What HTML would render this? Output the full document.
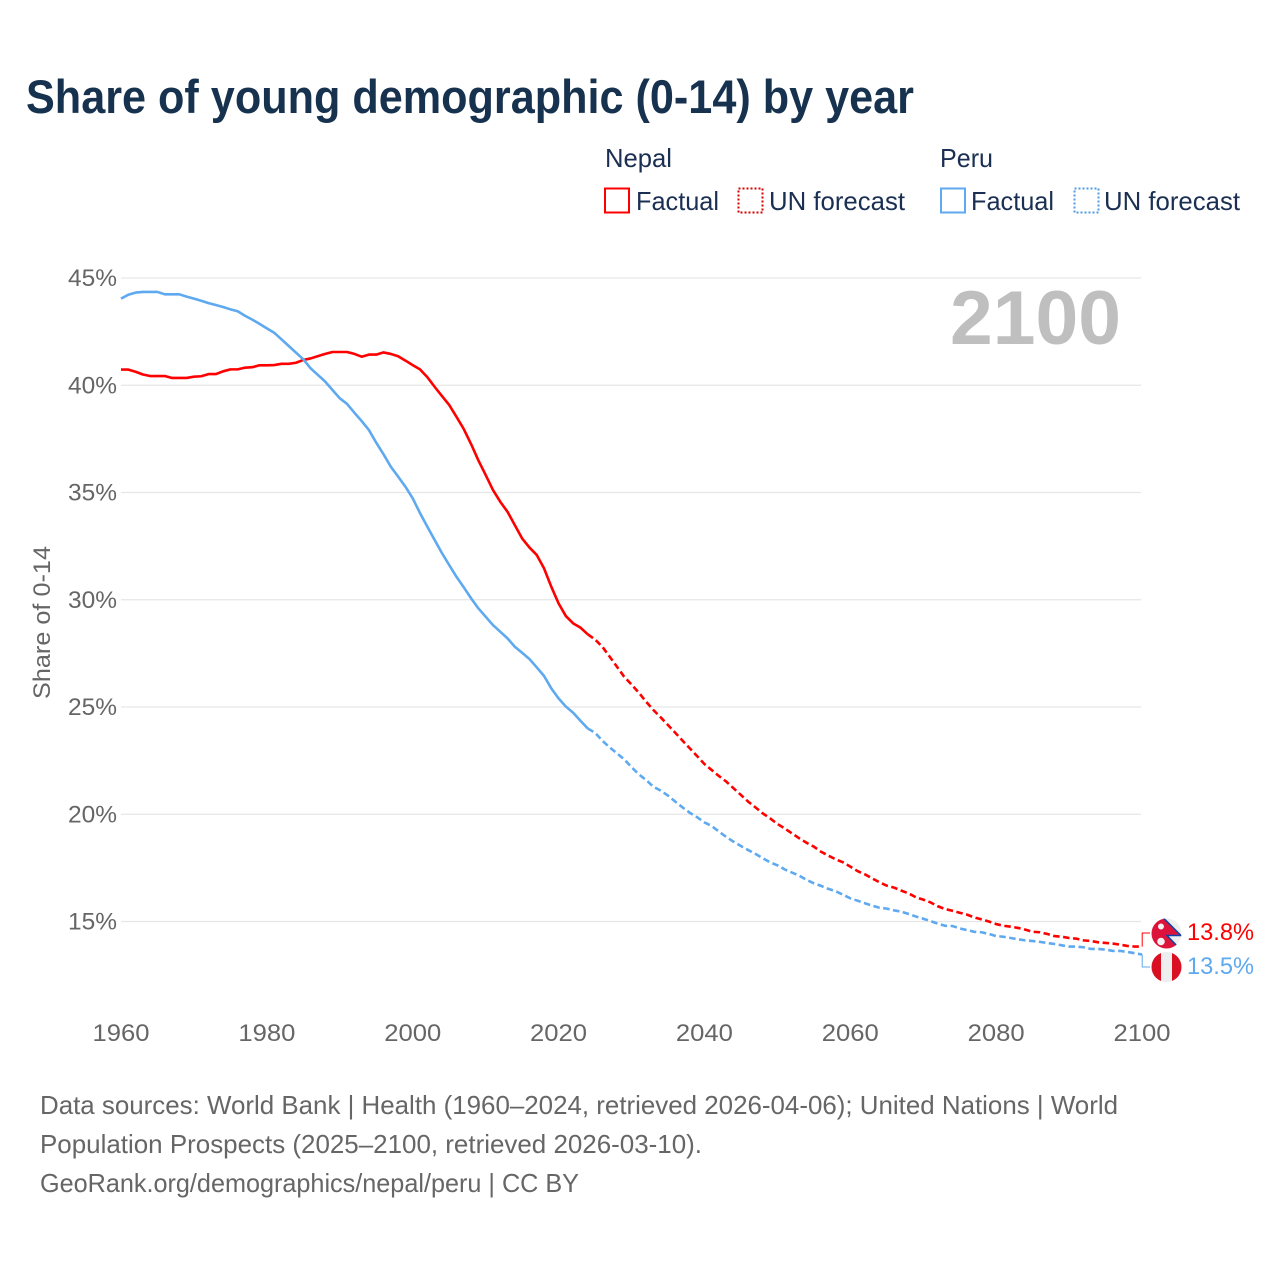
<!DOCTYPE html>
<html lang="en">
<head>
<meta charset="utf-8">
<title>Share of young demographic (0-14) by year</title>
<style>
html,body{margin:0;padding:0;background:#fff;}
svg{display:block;font-family:"Liberation Sans",sans-serif;}
</style>
</head>
<body>
<svg id="chart" xmlns="http://www.w3.org/2000/svg" width="1280" height="1280" viewBox="0 0 1280 1280">
  <rect width="1280" height="1280" fill="#fff"/>
  <text x="26" y="113" font-size="47" font-weight="700" fill="#17324f" textLength="888" lengthAdjust="spacingAndGlyphs">Share of young demographic (0-14) by year</text>

  <g font-size="26" fill="#1a2f52">
    <text x="605" y="167" textLength="67" lengthAdjust="spacingAndGlyphs">Nepal</text>
    <text x="940" y="167" textLength="53" lengthAdjust="spacingAndGlyphs">Peru</text>
    <rect x="605" y="188.500" width="24" height="24" fill="none" stroke="#ff0000" stroke-width="2"/>
    <text x="636" y="210" textLength="83" lengthAdjust="spacingAndGlyphs">Factual</text>
    <rect x="738.500" y="188.500" width="24" height="24" fill="none" stroke="#d40000" stroke-width="2" stroke-dasharray="2 2"/>
    <text x="769" y="210" textLength="136" lengthAdjust="spacingAndGlyphs">UN forecast</text>
    <rect x="941" y="188.500" width="24" height="24" fill="none" stroke="#5ea9ef" stroke-width="2"/>
    <text x="971" y="210" textLength="83" lengthAdjust="spacingAndGlyphs">Factual</text>
    <rect x="1074.500" y="188.500" width="24" height="24" fill="none" stroke="#4f9be0" stroke-width="2" stroke-dasharray="2 2"/>
    <text x="1104" y="210" textLength="136" lengthAdjust="spacingAndGlyphs">UN forecast</text>
  </g>

  <g id="grid"></g>
  <text x="950" y="344" font-size="76" font-weight="700" fill="#bfbfbf" textLength="171" lengthAdjust="spacingAndGlyphs">2100</text>
  <g id="yticks" font-size="24" fill="#666" text-anchor="end"></g>
  <g id="xticks" font-size="24" fill="#666" text-anchor="middle"></g>
  <text transform="translate(50,699) rotate(-90)" font-size="24" fill="#666" textLength="153" lengthAdjust="spacingAndGlyphs">Share of 0-14</text>
  <g id="series"></g>
  <g id="ends"></g>

  <defs>
    <clipPath id="clip-np"><circle cx="1166.500" cy="933.500" r="15"/></clipPath>
    <clipPath id="clip-pe"><circle cx="1166.500" cy="967" r="15"/></clipPath>
  </defs>
  <g clip-path="url(#clip-np)">
    <rect x="1150" y="916" width="34" height="36" fill="#eeeeee"/>
    <polygon points="1148,916 1163,917.500 1181,935.500 1167,935.500 1181,950 1148,950" fill="#dc143c"/>
    <polyline points="1163,917.500 1181,935.500 1167,935.500 1181,950" fill="none" stroke="#0a45a8" stroke-width="1.500"/>
    <circle cx="1161" cy="926.500" r="3" fill="#f2f2f2"/>
    <circle cx="1161" cy="941.500" r="3.800" fill="#f2f2f2"/>
  </g>
  <g clip-path="url(#clip-pe)">
    <rect x="1150" y="950" width="34" height="34" fill="#eeeeee"/>
    <rect x="1150" y="950" width="11" height="34" fill="#d91023"/>
    <rect x="1172" y="950" width="12" height="34" fill="#d91023"/>
  </g>

  <g font-size="26" fill="#666">
    <text x="40" y="1114" textLength="1078" lengthAdjust="spacingAndGlyphs">Data sources: World Bank | Health (1960–2024, retrieved 2026-04-06); United Nations | World</text>
    <text x="40" y="1153" textLength="662" lengthAdjust="spacingAndGlyphs">Population Prospects (2025–2100, retrieved 2026-03-10).</text>
    <text x="40" y="1192" textLength="539" lengthAdjust="spacingAndGlyphs">GeoRank.org/demographics/nepal/peru | CC BY</text>
  </g>
</svg>
<script>
const yTickValues = [15, 20, 25, 30, 35, 40, 45];
const yTickLabels = ["15%", "20%", "25%", "30%", "35%", "40%", "45%"];
const xTickYears = [1960, 1980, 2000, 2020, 2040, 2060, 2080, 2100];
const factualStartYear = 1960;
const forecastStartYear = 2025;
const nepalFactual = [
  40.73,40.73,40.63,40.5,40.43,40.43,40.43,40.34,40.34,40.34,
  40.4,40.42,40.52,40.52,40.65,40.74,40.74,40.82,40.84,40.93,
  40.93,40.94,41.0,41.0,41.05,41.18,41.25,41.36,41.46,41.55,
  41.55,41.55,41.46,41.33,41.43,41.43,41.53,41.46,41.35,41.15,
  40.94,40.74,40.38,39.93,39.5,39.08,38.53,37.96,37.26,36.5,
  35.82,35.12,34.57,34.1,33.48,32.86,32.44,32.09,31.47,30.61,
  29.83,29.24,28.9,28.7,28.39
];
const nepalForecast = [
  28.15,27.81,27.35,26.88,26.41,
  26.05,25.67,25.25,24.86,24.52,24.16,23.8,23.43,23.07,22.71,
  22.34,22.06,21.78,21.52,21.21,20.9,20.59,20.32,20.04,19.81,
  19.55,19.34,19.11,18.88,18.67,18.49,18.25,18.07,17.9,17.76,
  17.56,17.35,17.2,17.01,16.83,16.67,16.58,16.44,16.31,16.13,
  16.02,15.89,15.71,15.58,15.5,15.41,15.32,15.19,15.1,15.0,
  14.88,14.8,14.76,14.7,14.62,14.52,14.5,14.42,14.32,14.29,
  14.23,14.2,14.12,14.09,14.03,14.0,13.97,13.92,13.86,13.83,
  13.83
];
const peruFactual = [
  44.04,44.22,44.32,44.35,44.35,44.35,44.24,44.24,44.24,44.13,
  44.04,43.94,43.83,43.74,43.65,43.54,43.45,43.24,43.06,42.86,
  42.65,42.45,42.14,41.83,41.52,41.21,40.79,40.48,40.17,39.78,
  39.39,39.13,38.72,38.33,37.91,37.32,36.78,36.2,35.74,35.27,
  34.73,34.04,33.41,32.79,32.18,31.62,31.07,30.58,30.07,29.6,
  29.21,28.82,28.51,28.2,27.81,27.53,27.24,26.85,26.45,25.87,
  25.4,25.02,24.73,24.36,24.0
];
const peruForecast = [
  23.8,23.43,23.12,22.84,22.56,
  22.2,21.86,21.6,21.28,21.1,20.87,20.59,20.32,20.07,19.86,
  19.62,19.45,19.19,18.94,18.72,18.52,18.33,18.15,17.95,17.76,
  17.62,17.43,17.28,17.14,16.94,16.78,16.66,16.52,16.41,16.25,
  16.08,15.97,15.85,15.74,15.64,15.6,15.52,15.46,15.35,15.23,
  15.13,15.02,14.9,14.8,14.79,14.68,14.6,14.52,14.5,14.42,
  14.32,14.29,14.23,14.17,14.12,14.09,14.05,14.0,13.95,13.89,
  13.83,13.83,13.8,13.72,13.72,13.69,13.63,13.63,13.58,13.52,
  13.46
];
const nepalEndLabel = "13.8%";
const peruEndLabel = "13.5%";

const SVGNS = "http://www.w3.org/2000/svg";
const NEPAL_COLOR = "#ff0000";
const PERU_COLOR = "#5ea9ef";
function xScale(year) { return 121 + (year - 1960) * (1142 - 121) / 140; }
function yScale(v) { return 921.5 - (v - 15) * (921.5 - 278) / 30; }
function make(tag, parent) {
  const el = document.createElementNS(SVGNS, tag);
  parent.appendChild(el);
  return el;
}
function pathFrom(values, startYear, prefixPoint) {
  const pts = values.map(function (v, i) {
    return xScale(startYear + i).toFixed(2) + " " + yScale(v).toFixed(2);
  });
  if (prefixPoint) pts.unshift(prefixPoint);
  return "M" + pts.join("L");
}

const grid = document.getElementById("grid");
const yticks = document.getElementById("yticks");
const xticks = document.getElementById("xticks");
const series = document.getElementById("series");
const ends = document.getElementById("ends");

yTickValues.forEach(function (v, i) {
  const line = make("line", grid);
  
  
  line.setAttribute("x1", 121);
  line.setAttribute("x2", 1141);
  line.setAttribute("y1", yScale(v));
  line.setAttribute("y2", yScale(v));
  line.setAttribute("stroke", "#e6e6e6");
  line.setAttribute("stroke-width", "1.200");
  const t = make("text", yticks);
  
  
  t.setAttribute("x", 117);
  t.setAttribute("y", yScale(v) + 8);
  t.setAttribute("textLength", 49);
  t.setAttribute("lengthAdjust", "spacingAndGlyphs");
  t.textContent = yTickLabels[i];
});

xTickYears.forEach(function (year) {
  const t = make("text", xticks);
  
  
  t.setAttribute("x", xScale(year));
  t.setAttribute("y", 1041);
  t.setAttribute("textLength", 57);
  t.setAttribute("lengthAdjust", "spacingAndGlyphs");
  t.textContent = year;
});

function lastPoint(values, startYear) {
  const i = values.length - 1;
  return { x: xScale(startYear + i), y: yScale(values[i]) };
}

function drawSeries(name, color, factual, forecast) {
  const end = lastPoint(factual, factualStartYear);
  const solid = make("path", series);
  
  
  solid.setAttribute("d", pathFrom(factual, factualStartYear));
  solid.setAttribute("fill", "none");
  solid.setAttribute("stroke", color);
  solid.setAttribute("stroke-width", "2.600");
  solid.setAttribute("stroke-linejoin", "round");
  const dashed = make("path", series);
  
  
  dashed.setAttribute("d", pathFrom(forecast, forecastStartYear, end.x.toFixed(2) + " " + end.y.toFixed(2)));
  dashed.setAttribute("fill", "none");
  dashed.setAttribute("stroke", color);
  dashed.setAttribute("stroke-width", "2.600");
  dashed.setAttribute("stroke-dasharray", "6.500 3.500");
}
drawSeries("nepal", NEPAL_COLOR, nepalFactual, nepalForecast);
drawSeries("peru", PERU_COLOR, peruFactual, peruForecast);

function drawEnd(values, color, label, targetY) {
  const e = lastPoint(values, forecastStartYear);
  const connector = make("path", ends);
  
  
  connector.setAttribute("d", "M" + (e.x + 0.2) + " " + e.y + "V" + targetY + "H1150");
  connector.setAttribute("fill", "none");
  connector.setAttribute("stroke", color);
  connector.setAttribute("stroke-width", "1");
  const t = make("text", ends);
  
  
  t.setAttribute("x", 1187);
  t.setAttribute("y", targetY + 7);
  t.setAttribute("font-size", "24");
  t.setAttribute("fill", color);
  t.setAttribute("textLength", 67);
  t.setAttribute("lengthAdjust", "spacingAndGlyphs");
  t.textContent = label;
}
drawEnd(nepalForecast, NEPAL_COLOR, nepalEndLabel, 933);
drawEnd(peruForecast, PERU_COLOR, peruEndLabel, 967);
</script>
</body>
</html>
